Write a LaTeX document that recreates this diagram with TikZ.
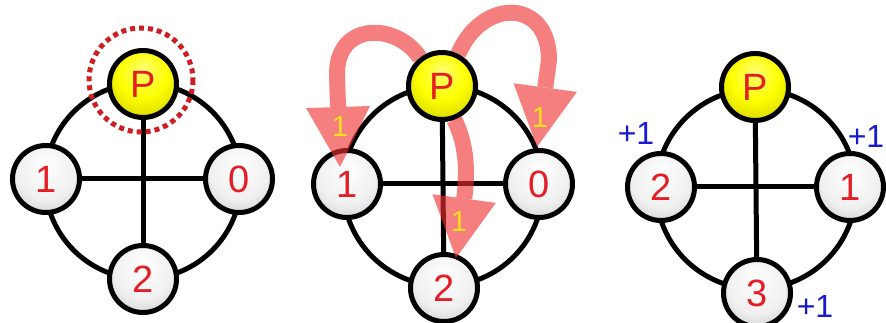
\documentclass[tikz,border=0pt]{standalone}
\usepackage{fontspec}
\setmainfont{Liberation Sans}
\usetikzlibrary{arrows.meta}
\pgfdeclarelayer{bg}
\pgfsetlayers{bg,main}
\definecolor{lbl}{RGB}{228,30,36}
\definecolor{dotred}{RGB}{205,30,35}
\definecolor{arr}{RGB}{240,50,50}
\definecolor{ylab}{RGB}{250,222,30}
\definecolor{plus}{RGB}{25,25,205}
\pgfdeclareradialshading{gball}{\pgfpoint{0bp}{12bp}}{color(0bp)=(white); color(22bp)=(white!94!black); color(50bp)=(black!38)}
\pgfdeclareradialshading{yball}{\pgfpoint{0bp}{12bp}}{color(0bp)=(yellow!55!white); color(18bp)=(yellow); color(50bp)=(yellow!62!black)}
\begin{document}
\begin{tikzpicture}[x=1pt,y=-1pt,
  ringline/.style={line width=5pt,draw=black},
  gnode/.style={circle,draw=black,line width=5pt,minimum size=67pt,inner sep=0pt,shade,shading=gball,text=lbl,font=\fontsize{38}{38}\selectfont},
  pnode/.style={gnode,shading=yball},
  halo/.style={draw=dotred,line width=5pt,dash pattern=on 5pt off 4pt},
  bigarrow/.style={draw=arr,line width=16pt,line join=round,-{Triangle[width=64pt,length=60pt,line width=0pt]}},
  ylabel/.style={text=ylab,font=\fontsize{29}{29}\selectfont,inner sep=0pt},
  plabel/.style={text=plus,font=\fontsize{32}{32}\selectfont,inner sep=0pt}
]
\useasboundingbox (0,0) rectangle (886,323);

% ---------- panel 1 ----------
\node[pnode] (P1) at (143,84) {P};
\node[gnode] (A1) at (46,179) {1};
\node[gnode] (B1) at (239,179) {0};
\node[gnode] (C1) at (143,279) {2};
\begin{pgfonlayer}{bg}
  \fill[white] (0,0) rectangle (886,323);
  \draw[ringline] (143,181) circle[radius=98];
  \draw[ringline] (A1) -- (B1);
  \draw[ringline] (P1) -- (C1);
\end{pgfonlayer}
\draw[halo] (141,80) circle[radius=52];

% ---------- panel 2 ----------
\node[pnode] (P2) at (442,86) {P};
\node[gnode] (A2) at (347,184) {1};
\node[gnode] (B2) at (539,184) {0};
\node[gnode] (C2) at (444,288) {2};
\begin{pgfonlayer}{bg}
  \draw[ringline] (443,186) circle[radius=100];
  \draw[ringline] (A2) -- (B2);
  \draw[ringline] (P2) -- (C2);
\end{pgfonlayer}
\coordinate (t1) at (340,167);
\coordinate (t2) at (537,147);
\coordinate (t3) at (456,258);
\begin{scope}[transparency group,opacity=0.62]
  \draw[bigarrow] (P2.128) .. controls (396,22) and (336,22) .. (337,75) -- (t1);
  \draw[bigarrow] (P2.63) .. controls (482,-2) and (549,-2) .. (549,60) -- (t2);
  \draw[bigarrow] (P2.-70) .. controls (470,150) and (466,185) .. (t3);
\end{scope}
\node[ylabel] (y1) at (340,127) {1};
\node[ylabel] (y2) at (540,118) {1};
\node[ylabel] (y3) at (459,222) {1};

% ---------- panel 3 ----------
\node[pnode] (P3) at (755,87) {P};
\node[gnode] (A3) at (661,187) {2};
\node[gnode] (B3) at (850,187) {1};
\node[gnode] (C3) at (757,293) {3};
\begin{pgfonlayer}{bg}
  \draw[ringline] (756,189) circle[radius=100];
  \draw[ringline] (A3) -- (B3);
  \draw[ringline] (P3) -- (C3);
\end{pgfonlayer}
\node[plabel] (pa) at (636,133) {+1};
\node[plabel] (pb) at (866,136) {+1};
\node[plabel] (pc) at (815,306) {+1};
\end{tikzpicture}
\end{document}
